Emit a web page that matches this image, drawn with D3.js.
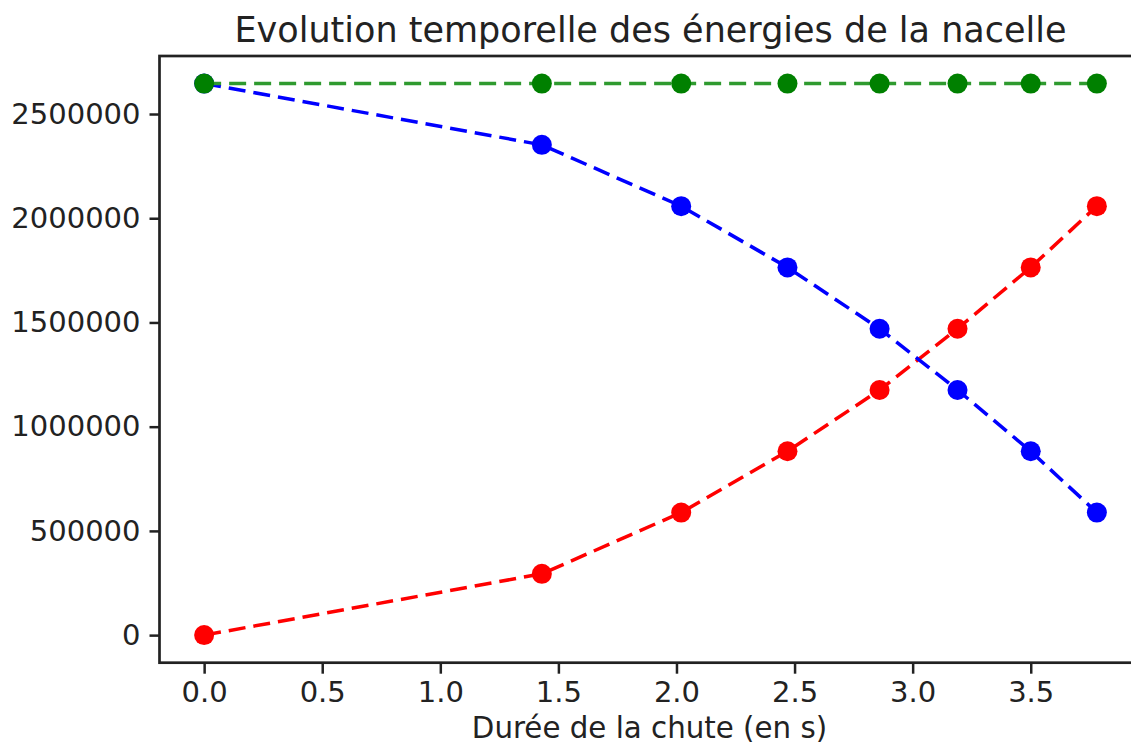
<!DOCTYPE html>
<html>
<head>
<meta charset="utf-8">
<script src="https://cdn.jsdelivr.net/npm/d3@7"></script>
<style>
  body { margin: 0; background: #fff; }
  text { font-family: "DejaVu Sans", sans-serif; fill: #222; }
</style>
</head>
<body>
<div id="wrapper"></div>
<script>
// data
const temps = [0, 1.43, 2.02, 2.47, 2.86, 3.19, 3.50, 3.78];
const energieCinetique = [0, 294000, 588000, 882000, 1176000, 1470000, 1764000, 2058000];
const energiePotentielle = [2646000, 2352000, 2058000, 1764000, 1470000, 1176000, 882000, 588000];
const energieMecanique = [2646000, 2646000, 2646000, 2646000, 2646000, 2646000, 2646000, 2646000];
const xTicks = [0, 0.5, 1.0, 1.5, 2.0, 2.5, 3.0, 3.5];
const yTicks = [0, 500000, 1000000, 1500000, 2000000, 2500000];

const titre = "Evolution temporelle des énergies de la nacelle";
const xLabel = "Durée de la chute (en s)";

//dimensions
let dimensions = {
    width: 1131,
    height: 752,
    left: 159.5,
    top: 56,
    bottom: 662.7,
    right: 1141.5
};

const svg = d3.select("#wrapper").append("svg")
    .attr("width", dimensions.width)
    .attr("height", dimensions.height);

//scales (matplotlib 5% margins)
const xPad = 0.05 * (d3.max(temps) - d3.min(temps));
const yPad = 0.05 * (d3.max(energieMecanique) - 0);

let xScale = d3.scaleLinear()
    .domain([d3.min(temps) - xPad, d3.max(temps) + xPad])
    .range([dimensions.left, dimensions.right]);

let yScale = d3.scaleLinear()
    .domain([0 - yPad, d3.max(energieMecanique) + yPad])
    .range([dimensions.bottom, dimensions.top]);

//series
const series = [
    { values: energieCinetique, color: "#ff0000", line: "#ff0000" },
    { values: energiePotentielle, color: "#0000ff", line: "#0000ff" },
    { values: energieMecanique, color: "#008000", line: "#2f9a2f" }
];

const lineGenerator = d3.line()
    .x(d => xScale(d[0]))
    .y(d => yScale(d[1]));

const plot = svg.append("g");

series.forEach(s => {
    let pts = temps.map((t, i) => [t, s.values[i]]);
    plot.append("path")
        .attr("d", lineGenerator(pts))
        .attr("fill", "none")
        .attr("stroke", s.line)
        .attr("stroke-width", 3.5)
        .attr("stroke-dasharray", "17,8");
    plot.selectAll(null)
        .data(pts)
        .enter()
        .append("circle")
        .attr("cx", d => xScale(d[0]))
        .attr("cy", d => yScale(d[1]))
        .attr("r", 10)
        .attr("fill", s.color);
});

//axes
let xAxisGenerator = d3.axisBottom(xScale)
    .tickValues(xTicks)
    .tickFormat(d3.format(".1f"))
    .tickSize(11)
    .tickSizeOuter(0)
    .tickPadding(8);

let xAxis = svg.append("g")
    .attr("transform", `translate(0,${dimensions.bottom})`)
    .call(xAxisGenerator);

let yAxisGenerator = d3.axisLeft(yScale)
    .tickValues(yTicks)
    .tickFormat(d3.format("d"))
    .tickSize(10)
    .tickSizeOuter(0)
    .tickPadding(9);

let yAxis = svg.append("g")
    .attr("transform", `translate(${dimensions.left},0)`)
    .call(yAxisGenerator);

[xAxis, yAxis].forEach(a => {
    a.selectAll(".domain").remove();
    a.selectAll(".tick line").attr("stroke", "#222").attr("stroke-width", 2.5);
    a.selectAll(".tick text").style("font-size", "29px").style("fill", "#222");
});

//spines
svg.append("rect")
    .attr("x", dimensions.left)
    .attr("y", dimensions.top)
    .attr("width", dimensions.right - dimensions.left)
    .attr("height", dimensions.bottom - dimensions.top)
    .attr("fill", "none")
    .attr("stroke", "#222")
    .attr("stroke-width", 2.7);

//texts
svg.append("text")
    .attr("x", (dimensions.left + dimensions.right) / 2)
    .attr("y", 42)
    .attr("text-anchor", "middle")
    .style("font-size", "35px")
    .text(titre);

svg.append("text")
    .attr("x", (dimensions.left + dimensions.right) / 2 - 1)
    .attr("y", 738)
    .attr("text-anchor", "middle")
    .style("font-size", "29.3px")
    .text(xLabel);
</script>
</body>
</html>
